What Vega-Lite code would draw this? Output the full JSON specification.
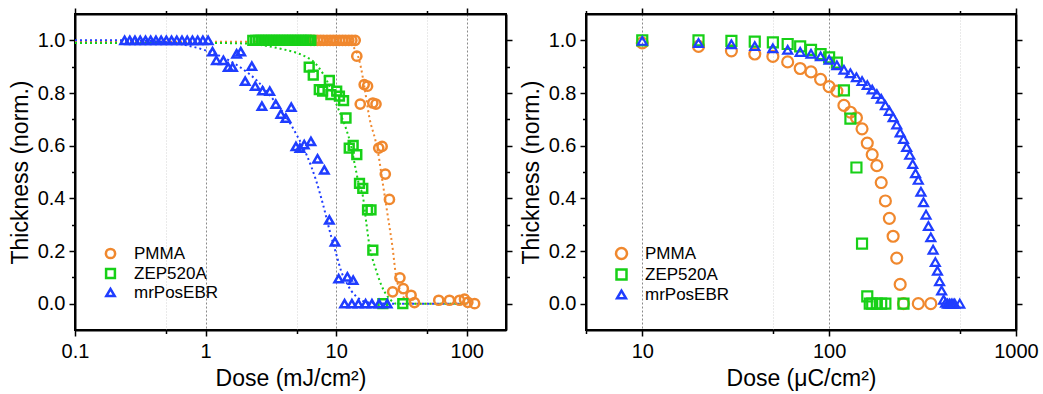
{
  "$schema": "https://vega.github.io/schema/vega-lite/v6.json",
  "background": "white",
  "padding": {"left": 8, "top": 6, "right": 0, "bottom": 0},
  "spacing": 5,
  "config": {
    "font": "Liberation Sans",
    "view": {"stroke": "black", "strokeWidth": 2},
    "axis": {
      "domainColor": "black", "domainWidth": 2, "tickColor": "black", "tickWidth": 1.5,
      "labelColor": "black", "titleColor": "black", "labelFontSize": 20, "titleFontSize": 23,
      "titleFontWeight": "normal", "labelFlush": false, "labelOverlap": false, "grid": false
    },
    "legend": {
      "labelFontSize": 17, "labelColor": "black", "symbolStrokeWidth": 2.5, "symbolSize": 90,
      "labelOffset": 15, "rowPadding": 0
    }
  },
  "datasets": {
    "lpts": [
      {"series": "PMMA", "dose": 6.4, "thickness": 1.0},
      {"series": "PMMA", "dose": 6.8, "thickness": 1.0},
      {"series": "PMMA", "dose": 7.2, "thickness": 1.0},
      {"series": "PMMA", "dose": 7.6, "thickness": 1.0},
      {"series": "PMMA", "dose": 8.0, "thickness": 1.0},
      {"series": "PMMA", "dose": 8.5, "thickness": 1.0},
      {"series": "PMMA", "dose": 9.0, "thickness": 1.0},
      {"series": "PMMA", "dose": 9.5, "thickness": 1.0},
      {"series": "PMMA", "dose": 10.0, "thickness": 1.0},
      {"series": "PMMA", "dose": 10.6, "thickness": 1.0},
      {"series": "PMMA", "dose": 11.2, "thickness": 1.0},
      {"series": "PMMA", "dose": 11.8, "thickness": 1.0},
      {"series": "PMMA", "dose": 12.5, "thickness": 1.0},
      {"series": "PMMA", "dose": 13.2, "thickness": 1.0},
      {"series": "PMMA", "dose": 14.0, "thickness": 1.0},
      {"series": "PMMA", "dose": 14.4, "thickness": 0.94},
      {"series": "PMMA", "dose": 16.4, "thickness": 0.832},
      {"series": "PMMA", "dose": 17.4, "thickness": 0.826},
      {"series": "PMMA", "dose": 15.3, "thickness": 0.758},
      {"series": "PMMA", "dose": 19.1, "thickness": 0.762},
      {"series": "PMMA", "dose": 20.2, "thickness": 0.758},
      {"series": "PMMA", "dose": 21.2, "thickness": 0.591},
      {"series": "PMMA", "dose": 22.5, "thickness": 0.597},
      {"series": "PMMA", "dose": 23.8, "thickness": 0.492},
      {"series": "PMMA", "dose": 25.6, "thickness": 0.396},
      {"series": "PMMA", "dose": 30.8, "thickness": 0.098},
      {"series": "PMMA", "dose": 27.1, "thickness": 0.045},
      {"series": "PMMA", "dose": 32.7, "thickness": 0.057},
      {"series": "PMMA", "dose": 37.5, "thickness": 0.032},
      {"series": "PMMA", "dose": 39.8, "thickness": 0.004},
      {"series": "PMMA", "dose": 61.1, "thickness": 0.013},
      {"series": "PMMA", "dose": 73.8, "thickness": 0.013},
      {"series": "PMMA", "dose": 88.1, "thickness": 0.013},
      {"series": "PMMA", "dose": 96.2, "thickness": 0.017},
      {"series": "PMMA", "dose": 102, "thickness": 0.005},
      {"series": "PMMA", "dose": 115, "thickness": 0.0},
      {"series": "ZEP520A", "dose": 2.30, "thickness": 1.0},
      {"series": "ZEP520A", "dose": 2.42, "thickness": 1.0},
      {"series": "ZEP520A", "dose": 2.54, "thickness": 1.0},
      {"series": "ZEP520A", "dose": 2.66, "thickness": 1.0},
      {"series": "ZEP520A", "dose": 2.79, "thickness": 1.0},
      {"series": "ZEP520A", "dose": 2.92, "thickness": 1.0},
      {"series": "ZEP520A", "dose": 3.06, "thickness": 1.0},
      {"series": "ZEP520A", "dose": 3.21, "thickness": 1.0},
      {"series": "ZEP520A", "dose": 3.36, "thickness": 1.0},
      {"series": "ZEP520A", "dose": 3.52, "thickness": 1.0},
      {"series": "ZEP520A", "dose": 3.69, "thickness": 1.0},
      {"series": "ZEP520A", "dose": 3.87, "thickness": 1.0},
      {"series": "ZEP520A", "dose": 4.05, "thickness": 1.0},
      {"series": "ZEP520A", "dose": 4.25, "thickness": 1.0},
      {"series": "ZEP520A", "dose": 4.45, "thickness": 1.0},
      {"series": "ZEP520A", "dose": 4.66, "thickness": 1.0},
      {"series": "ZEP520A", "dose": 4.89, "thickness": 1.0},
      {"series": "ZEP520A", "dose": 5.12, "thickness": 1.0},
      {"series": "ZEP520A", "dose": 5.37, "thickness": 1.0},
      {"series": "ZEP520A", "dose": 5.62, "thickness": 1.0},
      {"series": "ZEP520A", "dose": 5.89, "thickness": 1.0},
      {"series": "ZEP520A", "dose": 6.17, "thickness": 1.0},
      {"series": "ZEP520A", "dose": 6.40, "thickness": 1.0},
      {"series": "ZEP520A", "dose": 6.22, "thickness": 0.898},
      {"series": "ZEP520A", "dose": 6.68, "thickness": 0.868},
      {"series": "ZEP520A", "dose": 7.43, "thickness": 0.813},
      {"series": "ZEP520A", "dose": 7.88, "thickness": 0.807},
      {"series": "ZEP520A", "dose": 8.87, "thickness": 0.848},
      {"series": "ZEP520A", "dose": 9.12, "thickness": 0.794},
      {"series": "ZEP520A", "dose": 10.1, "thickness": 0.807},
      {"series": "ZEP520A", "dose": 10.6, "thickness": 0.788},
      {"series": "ZEP520A", "dose": 11.4, "thickness": 0.771},
      {"series": "ZEP520A", "dose": 11.9, "thickness": 0.705},
      {"series": "ZEP520A", "dose": 12.6, "thickness": 0.591},
      {"series": "ZEP520A", "dose": 13.5, "thickness": 0.601},
      {"series": "ZEP520A", "dose": 14.4, "thickness": 0.566},
      {"series": "ZEP520A", "dose": 15.1, "thickness": 0.457},
      {"series": "ZEP520A", "dose": 16.0, "thickness": 0.438},
      {"series": "ZEP520A", "dose": 17.4, "thickness": 0.356},
      {"series": "ZEP520A", "dose": 18.5, "thickness": 0.356},
      {"series": "ZEP520A", "dose": 19.1, "thickness": 0.203},
      {"series": "ZEP520A", "dose": 22.8, "thickness": 0.0},
      {"series": "ZEP520A", "dose": 32.4, "thickness": 0.0},
      {"series": "mrPosEBR", "dose": 0.24, "thickness": 1.0},
      {"series": "mrPosEBR", "dose": 0.263, "thickness": 1.0},
      {"series": "mrPosEBR", "dose": 0.288, "thickness": 1.0},
      {"series": "mrPosEBR", "dose": 0.316, "thickness": 1.0},
      {"series": "mrPosEBR", "dose": 0.347, "thickness": 1.0},
      {"series": "mrPosEBR", "dose": 0.38, "thickness": 1.0},
      {"series": "mrPosEBR", "dose": 0.417, "thickness": 1.0},
      {"series": "mrPosEBR", "dose": 0.457, "thickness": 1.0},
      {"series": "mrPosEBR", "dose": 0.501, "thickness": 1.0},
      {"series": "mrPosEBR", "dose": 0.549, "thickness": 1.0},
      {"series": "mrPosEBR", "dose": 0.602, "thickness": 1.0},
      {"series": "mrPosEBR", "dose": 0.66, "thickness": 1.0},
      {"series": "mrPosEBR", "dose": 0.724, "thickness": 1.0},
      {"series": "mrPosEBR", "dose": 0.794, "thickness": 1.0},
      {"series": "mrPosEBR", "dose": 0.87, "thickness": 1.0},
      {"series": "mrPosEBR", "dose": 0.954, "thickness": 1.0},
      {"series": "mrPosEBR", "dose": 1.046, "thickness": 1.0},
      {"series": "mrPosEBR", "dose": 1.13, "thickness": 0.957},
      {"series": "mrPosEBR", "dose": 1.21, "thickness": 0.924},
      {"series": "mrPosEBR", "dose": 1.37, "thickness": 0.924},
      {"series": "mrPosEBR", "dose": 1.49, "thickness": 0.898},
      {"series": "mrPosEBR", "dose": 1.61, "thickness": 0.898},
      {"series": "mrPosEBR", "dose": 1.73, "thickness": 0.949},
      {"series": "mrPosEBR", "dose": 1.86, "thickness": 0.957},
      {"series": "mrPosEBR", "dose": 2.26, "thickness": 0.902},
      {"series": "mrPosEBR", "dose": 2.01, "thickness": 0.845},
      {"series": "mrPosEBR", "dose": 2.40, "thickness": 0.826},
      {"series": "mrPosEBR", "dose": 2.73, "thickness": 0.809},
      {"series": "mrPosEBR", "dose": 3.10, "thickness": 0.807},
      {"series": "mrPosEBR", "dose": 2.70, "thickness": 0.750},
      {"series": "mrPosEBR", "dose": 3.45, "thickness": 0.758},
      {"series": "mrPosEBR", "dose": 3.77, "thickness": 0.720},
      {"series": "mrPosEBR", "dose": 4.12, "thickness": 0.705},
      {"series": "mrPosEBR", "dose": 4.53, "thickness": 0.746},
      {"series": "mrPosEBR", "dose": 4.92, "thickness": 0.597},
      {"series": "mrPosEBR", "dose": 5.28, "thickness": 0.591},
      {"series": "mrPosEBR", "dose": 5.70, "thickness": 0.604},
      {"series": "mrPosEBR", "dose": 6.41, "thickness": 0.616},
      {"series": "mrPosEBR", "dose": 7.21, "thickness": 0.550},
      {"series": "mrPosEBR", "dose": 8.12, "thickness": 0.508},
      {"series": "mrPosEBR", "dose": 8.87, "thickness": 0.318},
      {"series": "mrPosEBR", "dose": 9.80, "thickness": 0.235},
      {"series": "mrPosEBR", "dose": 10.45, "thickness": 0.095},
      {"series": "mrPosEBR", "dose": 12.2, "thickness": 0.102},
      {"series": "mrPosEBR", "dose": 13.5, "thickness": 0.089},
      {"series": "mrPosEBR", "dose": 11.6, "thickness": 0.0},
      {"series": "mrPosEBR", "dose": 13.2, "thickness": 0.0},
      {"series": "mrPosEBR", "dose": 14.8, "thickness": 0.0},
      {"series": "mrPosEBR", "dose": 16.8, "thickness": 0.0},
      {"series": "mrPosEBR", "dose": 18.8, "thickness": 0.0},
      {"series": "mrPosEBR", "dose": 21.3, "thickness": 0.0},
      {"series": "mrPosEBR", "dose": 24.6, "thickness": 0.0}
    ],
    "lfit": [
      {"fit": "PMMA fit", "dose": 0.1, "thickness": 0.995},
      {"fit": "PMMA fit", "dose": 5, "thickness": 0.995},
      {"fit": "PMMA fit", "dose": 10, "thickness": 0.994},
      {"fit": "PMMA fit", "dose": 12, "thickness": 0.99},
      {"fit": "PMMA fit", "dose": 13.5, "thickness": 0.975},
      {"fit": "PMMA fit", "dose": 14.5, "thickness": 0.95},
      {"fit": "PMMA fit", "dose": 15.5, "thickness": 0.896},
      {"fit": "PMMA fit", "dose": 16.5, "thickness": 0.82},
      {"fit": "PMMA fit", "dose": 18, "thickness": 0.705},
      {"fit": "PMMA fit", "dose": 20, "thickness": 0.62},
      {"fit": "PMMA fit", "dose": 21, "thickness": 0.57},
      {"fit": "PMMA fit", "dose": 22.8, "thickness": 0.455},
      {"fit": "PMMA fit", "dose": 24.8, "thickness": 0.337},
      {"fit": "PMMA fit", "dose": 27.1, "thickness": 0.21},
      {"fit": "PMMA fit", "dose": 28.7, "thickness": 0.108},
      {"fit": "PMMA fit", "dose": 31.3, "thickness": 0.045},
      {"fit": "PMMA fit", "dose": 34, "thickness": 0.015},
      {"fit": "PMMA fit", "dose": 37, "thickness": 0.003},
      {"fit": "PMMA fit", "dose": 40, "thickness": 0.0},
      {"fit": "PMMA fit", "dose": 100, "thickness": 0.0},
      {"fit": "ZEP520A fit", "dose": 0.1, "thickness": 0.99},
      {"fit": "ZEP520A fit", "dose": 1, "thickness": 0.99},
      {"fit": "ZEP520A fit", "dose": 2, "thickness": 0.988},
      {"fit": "ZEP520A fit", "dose": 3, "thickness": 0.978},
      {"fit": "ZEP520A fit", "dose": 4, "thickness": 0.965},
      {"fit": "ZEP520A fit", "dose": 5, "thickness": 0.952},
      {"fit": "ZEP520A fit", "dose": 6, "thickness": 0.935},
      {"fit": "ZEP520A fit", "dose": 7, "thickness": 0.91},
      {"fit": "ZEP520A fit", "dose": 8, "thickness": 0.87},
      {"fit": "ZEP520A fit", "dose": 9, "thickness": 0.82},
      {"fit": "ZEP520A fit", "dose": 10, "thickness": 0.76},
      {"fit": "ZEP520A fit", "dose": 11, "thickness": 0.71},
      {"fit": "ZEP520A fit", "dose": 12, "thickness": 0.66},
      {"fit": "ZEP520A fit", "dose": 13, "thickness": 0.60},
      {"fit": "ZEP520A fit", "dose": 14, "thickness": 0.52},
      {"fit": "ZEP520A fit", "dose": 15, "thickness": 0.45},
      {"fit": "ZEP520A fit", "dose": 16, "thickness": 0.41},
      {"fit": "ZEP520A fit", "dose": 17, "thickness": 0.31},
      {"fit": "ZEP520A fit", "dose": 18, "thickness": 0.22},
      {"fit": "ZEP520A fit", "dose": 19, "thickness": 0.17},
      {"fit": "ZEP520A fit", "dose": 20, "thickness": 0.135},
      {"fit": "ZEP520A fit", "dose": 22, "thickness": 0.075},
      {"fit": "ZEP520A fit", "dose": 23.5, "thickness": 0.045},
      {"fit": "ZEP520A fit", "dose": 26, "thickness": 0.015},
      {"fit": "ZEP520A fit", "dose": 29, "thickness": 0.0},
      {"fit": "ZEP520A fit", "dose": 100, "thickness": 0.0},
      {"fit": "mrPosEBR fit", "dose": 0.1, "thickness": 1.0},
      {"fit": "mrPosEBR fit", "dose": 0.2, "thickness": 1.0},
      {"fit": "mrPosEBR fit", "dose": 0.35, "thickness": 0.998},
      {"fit": "mrPosEBR fit", "dose": 0.5, "thickness": 0.993},
      {"fit": "mrPosEBR fit", "dose": 0.7, "thickness": 0.982},
      {"fit": "mrPosEBR fit", "dose": 1.0, "thickness": 0.962},
      {"fit": "mrPosEBR fit", "dose": 1.5, "thickness": 0.925},
      {"fit": "mrPosEBR fit", "dose": 2.0, "thickness": 0.885},
      {"fit": "mrPosEBR fit", "dose": 2.5, "thickness": 0.845},
      {"fit": "mrPosEBR fit", "dose": 3.0, "thickness": 0.80},
      {"fit": "mrPosEBR fit", "dose": 4.0, "thickness": 0.72},
      {"fit": "mrPosEBR fit", "dose": 5.0, "thickness": 0.64},
      {"fit": "mrPosEBR fit", "dose": 6.0, "thickness": 0.56},
      {"fit": "mrPosEBR fit", "dose": 7.0, "thickness": 0.47},
      {"fit": "mrPosEBR fit", "dose": 8.0, "thickness": 0.37},
      {"fit": "mrPosEBR fit", "dose": 9.0, "thickness": 0.27},
      {"fit": "mrPosEBR fit", "dose": 10.0, "thickness": 0.19},
      {"fit": "mrPosEBR fit", "dose": 11.0, "thickness": 0.12},
      {"fit": "mrPosEBR fit", "dose": 12.0, "thickness": 0.08},
      {"fit": "mrPosEBR fit", "dose": 13.0, "thickness": 0.05},
      {"fit": "mrPosEBR fit", "dose": 14.5, "thickness": 0.025},
      {"fit": "mrPosEBR fit", "dose": 16, "thickness": 0.01},
      {"fit": "mrPosEBR fit", "dose": 20, "thickness": 0.002},
      {"fit": "mrPosEBR fit", "dose": 25, "thickness": 0.0},
      {"fit": "mrPosEBR fit", "dose": 100, "thickness": 0.0}
    ],
    "rpts": [
      {"series": "PMMA", "dose": 10, "thickness": 0.99},
      {"series": "PMMA", "dose": 20, "thickness": 0.977},
      {"series": "PMMA", "dose": 30, "thickness": 0.96},
      {"series": "PMMA", "dose": 40, "thickness": 0.948},
      {"series": "PMMA", "dose": 50, "thickness": 0.939},
      {"series": "PMMA", "dose": 60, "thickness": 0.918},
      {"series": "PMMA", "dose": 70, "thickness": 0.893},
      {"series": "PMMA", "dose": 80, "thickness": 0.88},
      {"series": "PMMA", "dose": 90, "thickness": 0.852},
      {"series": "PMMA", "dose": 100, "thickness": 0.824},
      {"series": "PMMA", "dose": 110, "thickness": 0.807},
      {"series": "PMMA", "dose": 120, "thickness": 0.753},
      {"series": "PMMA", "dose": 130, "thickness": 0.727},
      {"series": "PMMA", "dose": 140, "thickness": 0.706},
      {"series": "PMMA", "dose": 150, "thickness": 0.664},
      {"series": "PMMA", "dose": 160, "thickness": 0.61},
      {"series": "PMMA", "dose": 170, "thickness": 0.566},
      {"series": "PMMA", "dose": 180, "thickness": 0.524},
      {"series": "PMMA", "dose": 190, "thickness": 0.46},
      {"series": "PMMA", "dose": 200, "thickness": 0.39},
      {"series": "PMMA", "dose": 210, "thickness": 0.324},
      {"series": "PMMA", "dose": 220, "thickness": 0.256},
      {"series": "PMMA", "dose": 230, "thickness": 0.173},
      {"series": "PMMA", "dose": 240, "thickness": 0.073},
      {"series": "PMMA", "dose": 250, "thickness": 0.0},
      {"series": "PMMA", "dose": 300, "thickness": 0.0},
      {"series": "PMMA", "dose": 350, "thickness": 0.0},
      {"series": "ZEP520A", "dose": 10, "thickness": 1.0},
      {"series": "ZEP520A", "dose": 20, "thickness": 1.0},
      {"series": "ZEP520A", "dose": 30, "thickness": 0.998},
      {"series": "ZEP520A", "dose": 40, "thickness": 0.995},
      {"series": "ZEP520A", "dose": 50, "thickness": 0.992},
      {"series": "ZEP520A", "dose": 60, "thickness": 0.986},
      {"series": "ZEP520A", "dose": 70, "thickness": 0.977},
      {"series": "ZEP520A", "dose": 80, "thickness": 0.964},
      {"series": "ZEP520A", "dose": 90, "thickness": 0.948},
      {"series": "ZEP520A", "dose": 100, "thickness": 0.935},
      {"series": "ZEP520A", "dose": 110, "thickness": 0.915},
      {"series": "ZEP520A", "dose": 120, "thickness": 0.81},
      {"series": "ZEP520A", "dose": 130, "thickness": 0.703},
      {"series": "ZEP520A", "dose": 140, "thickness": 0.517},
      {"series": "ZEP520A", "dose": 150, "thickness": 0.228},
      {"series": "ZEP520A", "dose": 160, "thickness": 0.028},
      {"series": "ZEP520A", "dose": 165, "thickness": 0.0},
      {"series": "ZEP520A", "dose": 170, "thickness": 0.0},
      {"series": "ZEP520A", "dose": 180, "thickness": 0.0},
      {"series": "ZEP520A", "dose": 190, "thickness": 0.0},
      {"series": "ZEP520A", "dose": 200, "thickness": 0.0},
      {"series": "ZEP520A", "dose": 250, "thickness": 0.0},
      {"series": "mrPosEBR", "dose": 10, "thickness": 0.998},
      {"series": "mrPosEBR", "dose": 20, "thickness": 0.99},
      {"series": "mrPosEBR", "dose": 30, "thickness": 0.985},
      {"series": "mrPosEBR", "dose": 40, "thickness": 0.978},
      {"series": "mrPosEBR", "dose": 50, "thickness": 0.97},
      {"series": "mrPosEBR", "dose": 60, "thickness": 0.964},
      {"series": "mrPosEBR", "dose": 70, "thickness": 0.956},
      {"series": "mrPosEBR", "dose": 80, "thickness": 0.949},
      {"series": "mrPosEBR", "dose": 90, "thickness": 0.939},
      {"series": "mrPosEBR", "dose": 100, "thickness": 0.926},
      {"series": "mrPosEBR", "dose": 110, "thickness": 0.905},
      {"series": "mrPosEBR", "dose": 120, "thickness": 0.888},
      {"series": "mrPosEBR", "dose": 130, "thickness": 0.875},
      {"series": "mrPosEBR", "dose": 140, "thickness": 0.86},
      {"series": "mrPosEBR", "dose": 150, "thickness": 0.845},
      {"series": "mrPosEBR", "dose": 160, "thickness": 0.83},
      {"series": "mrPosEBR", "dose": 170, "thickness": 0.813},
      {"series": "mrPosEBR", "dose": 180, "thickness": 0.796},
      {"series": "mrPosEBR", "dose": 190, "thickness": 0.778},
      {"series": "mrPosEBR", "dose": 200, "thickness": 0.753},
      {"series": "mrPosEBR", "dose": 210, "thickness": 0.732},
      {"series": "mrPosEBR", "dose": 220, "thickness": 0.708},
      {"series": "mrPosEBR", "dose": 230, "thickness": 0.68},
      {"series": "mrPosEBR", "dose": 240, "thickness": 0.65},
      {"series": "mrPosEBR", "dose": 250, "thickness": 0.625},
      {"series": "mrPosEBR", "dose": 260, "thickness": 0.595},
      {"series": "mrPosEBR", "dose": 270, "thickness": 0.565},
      {"series": "mrPosEBR", "dose": 280, "thickness": 0.53},
      {"series": "mrPosEBR", "dose": 290, "thickness": 0.495},
      {"series": "mrPosEBR", "dose": 300, "thickness": 0.47},
      {"series": "mrPosEBR", "dose": 310, "thickness": 0.425},
      {"series": "mrPosEBR", "dose": 320, "thickness": 0.385},
      {"series": "mrPosEBR", "dose": 330, "thickness": 0.338},
      {"series": "mrPosEBR", "dose": 340, "thickness": 0.295},
      {"series": "mrPosEBR", "dose": 350, "thickness": 0.252},
      {"series": "mrPosEBR", "dose": 360, "thickness": 0.205},
      {"series": "mrPosEBR", "dose": 370, "thickness": 0.158},
      {"series": "mrPosEBR", "dose": 380, "thickness": 0.125},
      {"series": "mrPosEBR", "dose": 390, "thickness": 0.085},
      {"series": "mrPosEBR", "dose": 400, "thickness": 0.05},
      {"series": "mrPosEBR", "dose": 410, "thickness": 0.015},
      {"series": "mrPosEBR", "dose": 420, "thickness": 0.003},
      {"series": "mrPosEBR", "dose": 430, "thickness": 0.0},
      {"series": "mrPosEBR", "dose": 440, "thickness": 0.0},
      {"series": "mrPosEBR", "dose": 450, "thickness": 0.0},
      {"series": "mrPosEBR", "dose": 460, "thickness": 0.0},
      {"series": "mrPosEBR", "dose": 470, "thickness": 0.0},
      {"series": "mrPosEBR", "dose": 500, "thickness": 0.0}
    ]
  },
  "resolve": {"scale": {"color": "independent", "shape": "independent", "size": "independent", "stroke": "independent"}},
  "hconcat": [
    {
      "width": 431,
      "height": 316,
      "resolve": {"axis": {"x": "independent", "y": "independent"}},
      "layer": [
        {
          "data": {"name": "lfit"},
          "mark": {"type": "point", "opacity": 0},
          "encoding": {
            "x": {"field": "dose", "type": "quantitative", "scale": {"type": "log", "domain": [0.1, 200], "nice": false},
                  "axis": {"orient": "bottom", "values": [0.5, 5, 50], "labels": false, "title": null, "domain": false, "tickSize": 3.5, "grid": true, "gridColor": "#d4d4d4", "gridDash": [1, 2], "gridWidth": 1}},
            "y": {"field": "thickness", "type": "quantitative", "scale": {"domain": [-0.1, 1.1], "nice": false, "zero": false},
                  "axis": {"orient": "left", "values": [0.1, 0.3, 0.5, 0.7, 0.9], "labels": false, "title": null, "domain": false, "tickSize": 3.5}}
          }
        },
        {
          "data": {"name": "lfit"},
          "mark": {"type": "point", "opacity": 0},
          "encoding": {
            "x": {"field": "dose", "type": "quantitative", "axis": {"orient": "top", "values": [0.1, 1, 10, 100], "labels": false, "title": null, "tickSize": 6}},
            "y": {"field": "thickness", "type": "quantitative", "axis": {"orient": "right", "values": [0, 0.2, 0.4, 0.6, 0.8, 1.0], "labels": false, "title": null, "tickSize": 6}}
          }
        },
        {
          "data": {"name": "lfit"},
          "mark": {"type": "point", "opacity": 0},
          "encoding": {
            "x": {"field": "dose", "type": "quantitative", "axis": {"orient": "top", "values": [0.5, 5, 50], "labels": false, "title": null, "domain": false, "tickSize": 3.5}},
            "y": {"field": "thickness", "type": "quantitative", "axis": {"orient": "right", "values": [0.1, 0.3, 0.5, 0.7, 0.9], "labels": false, "title": null, "domain": false, "tickSize": 3.5}}
          }
        },
        {
          "data": {"name": "lfit"},
          "mark": {"type": "line", "strokeWidth": 2, "strokeDash": [2, 3], "interpolate": "monotone"},
          "encoding": {
            "x": {"field": "dose", "type": "quantitative",
                  "axis": {"orient": "bottom", "values": [0.1, 1, 10, 100], "format": "~g", "title": "Dose (mJ/cm²)", "tickSize": 6, "labelPadding": 5, "titlePadding": 6, "grid": true, "gridColor": "#8a8a8a", "gridDash": [2, 2], "gridWidth": 1}},
            "y": {"field": "thickness", "type": "quantitative",
                  "axis": {"orient": "left", "values": [0, 0.2, 0.4, 0.6, 0.8, 1.0], "format": ".1f", "title": "Thickness (norm.)", "tickSize": 6, "labelPadding": 4, "titlePadding": 5}},
            "stroke": {"field": "fit", "type": "nominal", "legend": null,
                      "scale": {"domain": ["PMMA fit", "ZEP520A fit", "mrPosEBR fit"], "range": ["#F0882E", "#17D017", "#1F3DFF"]}},
            "detail": {"field": "fit"}
          }
        },
        {
          "data": {"name": "lpts"},
          "mark": {"type": "point", "filled": false, "strokeWidth": 2.5, "opacity": 1},
          "encoding": {
            "x": {"field": "dose", "type": "quantitative", "axis": null},
            "y": {"field": "thickness", "type": "quantitative", "axis": null},
            "color": {"field": "series", "type": "nominal",
                      "scale": {"domain": ["PMMA", "ZEP520A", "mrPosEBR"], "range": ["#F0882E", "#17D017", "#1F3DFF"]},
                      "legend": {"title": null, "orient": "none", "legendX": 27, "legendY": 231}},
            "shape": {"field": "series", "type": "nominal",
                      "scale": {"domain": ["PMMA", "ZEP520A", "mrPosEBR"], "range": ["circle", "square", "triangle-up"]},
                      "legend": {"title": null, "orient": "none", "legendX": 27, "legendY": 231}},
            "size": {"field": "series", "type": "nominal", "legend": null,
                     "scale": {"domain": ["PMMA", "ZEP520A", "mrPosEBR"], "range": [85, 70, 160]}}
          }
        }
      ]
    },
    {
      "width": 430,
      "height": 316,
      "resolve": {"axis": {"x": "independent", "y": "independent"}},
      "layer": [
        {
          "data": {"name": "rpts"},
          "mark": {"type": "point", "opacity": 0},
          "encoding": {
            "x": {"field": "dose", "type": "quantitative", "scale": {"type": "log", "domain": [5, 1000], "nice": false},
                  "axis": {"orient": "bottom", "values": [5, 50, 500], "labels": false, "title": null, "domain": false, "tickSize": 3.5, "grid": true, "gridColor": "#d4d4d4", "gridDash": [1, 2], "gridWidth": 1}},
            "y": {"field": "thickness", "type": "quantitative", "scale": {"domain": [-0.1, 1.1], "nice": false, "zero": false},
                  "axis": {"orient": "left", "values": [0.1, 0.3, 0.5, 0.7, 0.9], "labels": false, "title": null, "domain": false, "tickSize": 3.5}}
          }
        },
        {
          "data": {"name": "rpts"},
          "mark": {"type": "point", "opacity": 0},
          "encoding": {
            "x": {"field": "dose", "type": "quantitative", "axis": {"orient": "top", "values": [10, 100, 1000], "labels": false, "title": null, "tickSize": 6}},
            "y": {"field": "thickness", "type": "quantitative", "axis": {"orient": "right", "values": [0, 0.2, 0.4, 0.6, 0.8, 1.0], "labels": false, "title": null, "tickSize": 6}}
          }
        },
        {
          "data": {"name": "rpts"},
          "mark": {"type": "point", "opacity": 0},
          "encoding": {
            "x": {"field": "dose", "type": "quantitative", "axis": {"orient": "top", "values": [5, 50, 500], "labels": false, "title": null, "domain": false, "tickSize": 3.5}},
            "y": {"field": "thickness", "type": "quantitative", "axis": {"orient": "right", "values": [0.1, 0.3, 0.5, 0.7, 0.9], "labels": false, "title": null, "domain": false, "tickSize": 3.5}}
          }
        },
        {
          "data": {"name": "rpts"},
          "mark": {"type": "point", "filled": false, "strokeWidth": 2.2, "opacity": 1},
          "encoding": {
            "x": {"field": "dose", "type": "quantitative",
                  "axis": {"orient": "bottom", "values": [10, 100, 1000], "format": "~g", "title": "Dose (μC/cm²)", "tickSize": 6, "labelPadding": 5, "titlePadding": 6, "grid": true, "gridColor": "#8a8a8a", "gridDash": [2, 2], "gridWidth": 1}},
            "y": {"field": "thickness", "type": "quantitative",
                  "axis": {"orient": "left", "values": [0, 0.2, 0.4, 0.6, 0.8, 1.0], "format": ".1f", "title": "Thickness (norm.)", "tickSize": 6, "labelPadding": 4, "titlePadding": 5}},
            "color": {"field": "series", "type": "nominal",
                      "scale": {"domain": ["PMMA", "ZEP520A", "mrPosEBR"], "range": ["#F0882E", "#17D017", "#1F3DFF"]},
                      "legend": {"title": null, "orient": "none", "legendX": 27, "legendY": 231}},
            "shape": {"field": "series", "type": "nominal",
                      "scale": {"domain": ["PMMA", "ZEP520A", "mrPosEBR"], "range": ["circle", "square", "triangle-up"]},
                      "legend": {"title": null, "orient": "none", "legendX": 27, "legendY": 231}},
            "size": {"field": "series", "type": "nominal", "legend": null,
                     "scale": {"domain": ["PMMA", "ZEP520A", "mrPosEBR"], "range": [120, 80, 165]}}
          }
        }
      ]
    }
  ]
}
